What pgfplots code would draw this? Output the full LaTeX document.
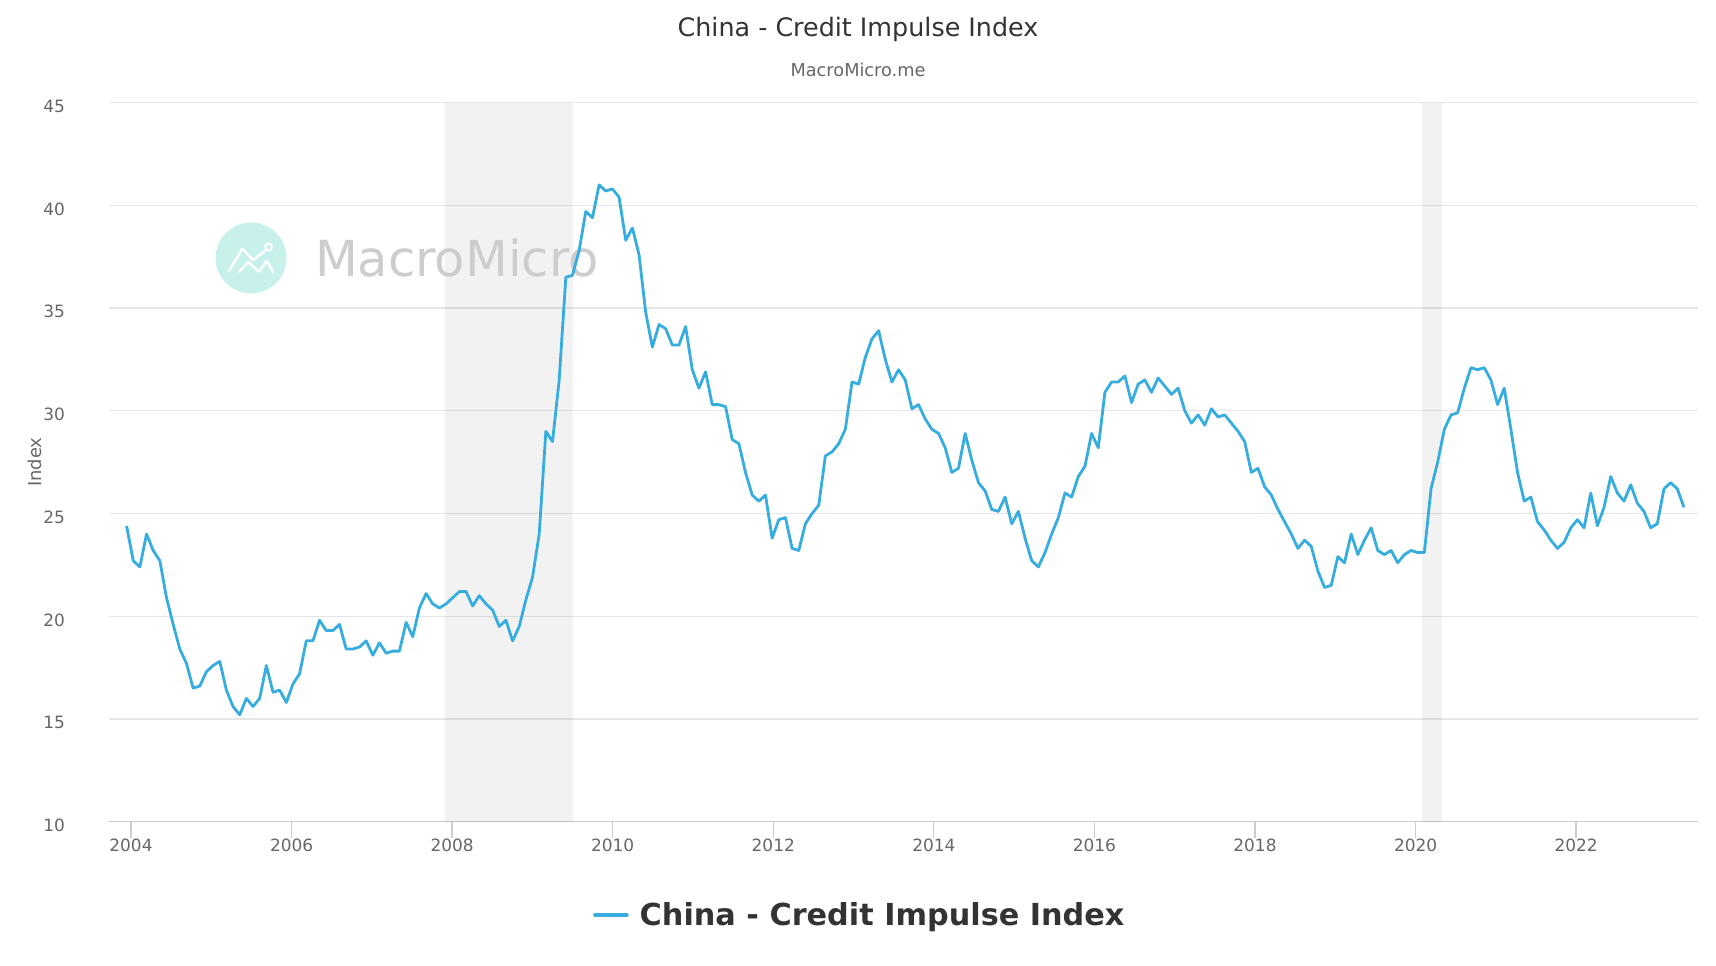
\documentclass[border=0pt]{standalone}
\usepackage{pgfplots}
\pgfplotsset{compat=1.18}
\usepackage{pgfplotstable}
\usepackage{fontspec}
\setmainfont{DejaVu Sans}
\definecolor{cline}{RGB}{54,173,222}
\definecolor{cgrid}{HTML}{E6E6E6}
\definecolor{caxis}{HTML}{CCCCCC}
\definecolor{ctick}{HTML}{666666}
\definecolor{ctitle}{HTML}{333333}
\definecolor{clogo}{HTML}{C8F1EC}
\definecolor{cwm}{HTML}{CDCDCD}
\pgfplotstableread{
v
24.4
22.7
22.4
24.0
23.2
22.7
20.9
19.6
18.4
17.7
16.5
16.6
17.3
17.6
17.8
16.4
15.6
15.2
16.0
15.6
16.0
17.6
16.3
16.4
15.8
16.7
17.2
18.8
18.8
19.8
19.3
19.3
19.6
18.4
18.4
18.5
18.8
18.1
18.7
18.2
18.3
18.3
19.7
19.0
20.4
21.1
20.6
20.4
20.6
20.9
21.2
21.2
20.5
21.0
20.6
20.3
19.5
19.8
18.8
19.5
20.8
21.9
24.0
29.0
28.5
31.5
36.5
36.6
37.8
39.7
39.4
41.0
40.7
40.8
40.4
38.3
38.9
37.6
34.8
33.1
34.2
34.0
33.2
33.2
34.1
32.0
31.1
31.9
30.3
30.3
30.2
28.6
28.4
27.0
25.9
25.6
25.9
23.8
24.7
24.8
23.3
23.2
24.5
25.0
25.4
27.8
28.0
28.4
29.1
31.4
31.3
32.6
33.5
33.9
32.5
31.4
32.0
31.5
30.1
30.3
29.6
29.1
28.9
28.2
27.0
27.2
28.9
27.6
26.5
26.1
25.2
25.1
25.8
24.5
25.1
23.8
22.7
22.4
23.1
24.0
24.8
26.0
25.8
26.8
27.3
28.9
28.2
30.9
31.4
31.4
31.7
30.4
31.3
31.5
30.9
31.6
31.2
30.8
31.1
30.0
29.4
29.8
29.3
30.1
29.7
29.8
29.4
29.0
28.5
27.0
27.2
26.3
25.9
25.2
24.6
24.0
23.3
23.7
23.4
22.2
21.4
21.5
22.9
22.6
24.0
23.0
23.7
24.3
23.2
23.0
23.2
22.6
23.0
23.2
23.1
23.1
26.2
27.5
29.1
29.8
29.9
31.1
32.1
32.0
32.1
31.5
30.3
31.1
29.1
27.0
25.6
25.8
24.6
24.2
23.7
23.3
23.6
24.3
24.7
24.3
26.0
24.4
25.3
26.8
26.0
25.6
26.4
25.5
25.1
24.3
24.5
26.2
26.5
26.2
25.3
}\cidata
\begin{document}
\begin{tikzpicture}
\useasboundingbox (0bp,0bp) rectangle (1716bp,966bp);
\node[font=\fontsize{25.5}{30}\selectfont, text=ctitle, anchor=base, inner sep=0pt] at (858bp,929.5bp) {China - Credit Impulse Index};
\node[font=\fontsize{17.8}{21}\selectfont, text=ctick, anchor=base, inner sep=0pt] at (858bp,889bp) {MacroMicro.me};
\begin{axis}[
  at={(109bp,144.4bp)}, anchor=south west,
  scale only axis, width=1589bp, height=718.9bp,
  xmin=2003.726, xmax=2023.519, ymin=10, ymax=45,
  xtick={2004,2006,...,2022},
  ytick={10,15,...,45},
  axis x line*=bottom, axis y line*=left,
  x axis line style={draw=caxis, line width=1.3bp},
  y axis line style={draw=none},
  ymajorgrids, grid style={draw=cgrid, line width=1.3bp},
  tick align=outside, major tick length=16bp,
  xtick style={draw=caxis, line width=1.3bp},
  ytick style={draw=none},
  /pgf/number format/assume math mode=true,
  /pgf/number format/1000 sep={},
  ticklabel style={font=\fontsize{17}{20}\selectfont, text=ctick},
  xticklabel style={anchor=north, inner sep=0pt, yshift=-1.4bp},
  yticklabel style={anchor=east, inner sep=0pt, xshift=-28bp, yshift=-3.7bp},
  ylabel={Index},
  ylabel style={at={(axis description cs:-0.0466,0.5)}, anchor=center, font=\fontsize{18}{21}\selectfont, text=ctick},
  legend style={at={(axis description cs:0.3046,-0.1299)}, anchor=west, draw=none, fill=none, inner sep=0pt,
    font=\bfseries\fontsize{30.4}{36}\selectfont, text=ctitle, nodes={inner sep=0pt},
    /tikz/every odd column/.append style={column sep=11bp}},
  legend image code/.code={\draw[#1, line width=3.5bp, line cap=round] (0bp,0bp) -- (32bp,0bp);},
  clip=false,
]
\addplot[fill=black, fill opacity=0.051, draw=none, forget plot] coordinates {(2007.917,10) (2007.917,45) (2009.5,45) (2009.5,10)};
\addplot[fill=black, fill opacity=0.051, draw=none, forget plot] coordinates {(2020.083,10) (2020.083,45) (2020.333,45) (2020.333,10)};
\node[circle, fill=clogo, minimum size=71bp, inner sep=0pt] at (axis cs:2005.495,37.44) {};
\draw[white, line width=2.4bp, line join=round, line cap=round] (axis cs:2005.495,37.44) ++(-22bp,-13bp) -- ++(13.3bp,22.3bp) -- ++(10.7bp,-11.3bp) -- ++(12bp,9bp);
\draw[white, line width=2.4bp, line join=round, line cap=round] (axis cs:2005.495,37.44) ++(-12bp,-14bp) -- ++(9.3bp,10bp) -- ++(10.7bp,-10bp) -- ++(8bp,11bp) -- ++(6bp,-11bp);
\draw[white, line width=2bp] (axis cs:2005.495,37.44) ++(17.5bp,11bp) circle[radius=3.5bp];
\node[text=cwm, font=\fontsize{49.8}{57}\selectfont, inner sep=0pt] at (axis cs:2008.06,37.44) {MacroMicro};
\addplot[cline, line width=2.8bp, line join=round, mark=none] table[x expr=2003.945+\coordindex*0.0829, y=v] {\cidata};
\addlegendentry{China - Credit Impulse Index}
\end{axis}
\end{tikzpicture}
\end{document}
